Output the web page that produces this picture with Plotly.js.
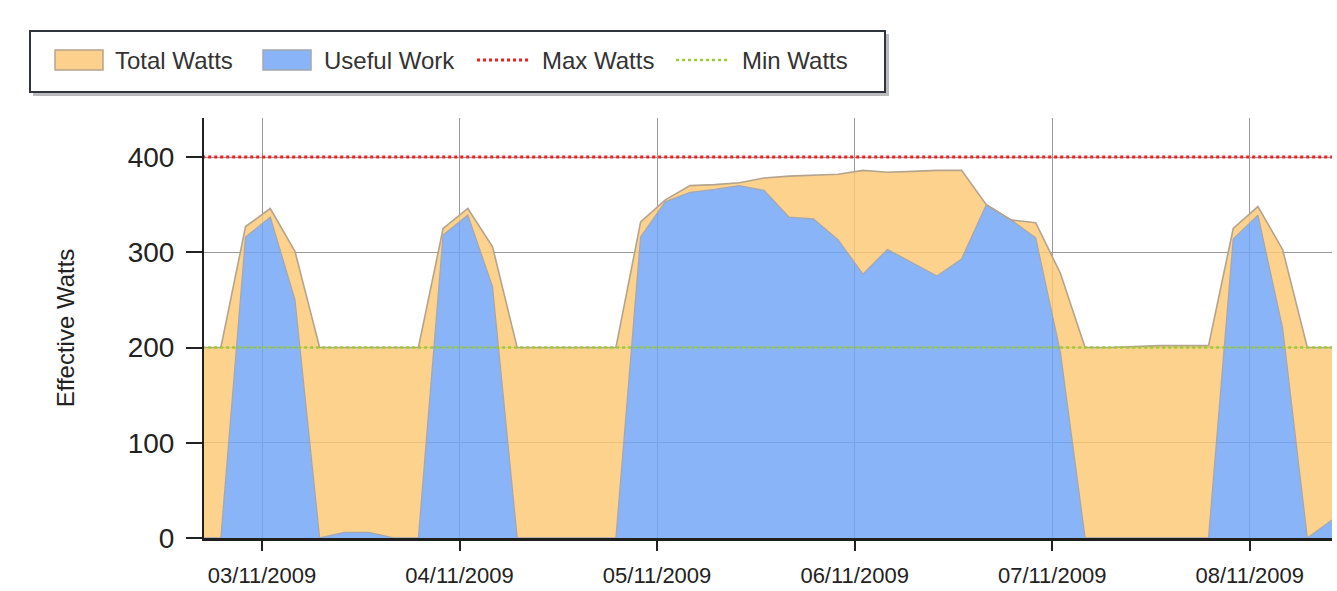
<!DOCTYPE html>
<html>
<head>
<meta charset="utf-8">
<script src="https://cdn.plot.ly/plotly-3.0.1.min.js"></script>
<style>
  html, body { margin: 0; padding: 0; background: #ffffff; }
  #chart { width: 1337px; height: 591px; }
</style>
</head>
<body>
<div id="chart"></div>
<script>
// ---- Data ----
const times = [
  '2009-11-02 16:00', '2009-11-02 19:00', '2009-11-02 22:00',
  '2009-11-03 01:00', '2009-11-03 04:00', '2009-11-03 07:00', '2009-11-03 10:00',
  '2009-11-03 13:00', '2009-11-03 16:00', '2009-11-03 19:00', '2009-11-03 22:00',
  '2009-11-04 01:00', '2009-11-04 04:00', '2009-11-04 07:00', '2009-11-04 10:00',
  '2009-11-04 13:00', '2009-11-04 16:00', '2009-11-04 19:00', '2009-11-04 22:00',
  '2009-11-05 01:00', '2009-11-05 04:00', '2009-11-05 07:00', '2009-11-05 10:00',
  '2009-11-05 13:00', '2009-11-05 16:00', '2009-11-05 19:00', '2009-11-05 22:00',
  '2009-11-06 01:00', '2009-11-06 04:00', '2009-11-06 07:00', '2009-11-06 10:00',
  '2009-11-06 13:00', '2009-11-06 16:00', '2009-11-06 19:00', '2009-11-06 22:00',
  '2009-11-07 01:00', '2009-11-07 04:00', '2009-11-07 07:00', '2009-11-07 10:00',
  '2009-11-07 13:00', '2009-11-07 16:00', '2009-11-07 19:00', '2009-11-07 22:00',
  '2009-11-08 01:00', '2009-11-08 04:00', '2009-11-08 07:00', '2009-11-08 10:00'
];

const totalWatts = [
  200, 200, 327,
  346, 301, 200, 200,
  200, 200, 200, 325,
  346, 306, 200, 200,
  200, 200, 200, 332,
  355, 370, 371, 373,
  378, 380, 381, 382,
  386, 384, 385, 386,
  386, 350, 334, 331,
  278, 200, 200, 201,
  202, 202, 202, 325,
  348, 303, 200, 200
];

const usefulWork = [
  0, 0, 316,
  337, 250, 0, 6,
  6, 0, 0, 318,
  339, 264, 0, 0,
  0, 0, 0, 316,
  353, 363, 366, 370,
  365, 337, 335, 313,
  277, 303, 289, 275,
  293, 350, 334, 315,
  195, 0, 0, 0,
  0, 0, 0, 314,
  339, 220, 0, 19
];

const limitTimes = ['2009-11-02 16:00', '2009-11-08 10:00'];
const maxWatts = [400, 400];
const minWatts = [200, 200];

const seriesNames = ['Total Watts', 'Useful Work', 'Max Watts', 'Min Watts'];
const yTicks = [0, 100, 200, 300, 400];

// ---- Layout geometry (pixels) ----
const L = 204, R = 1332, T = 118, B = 538;
const W = R - L, H = B - T;
const px = x => (x - L) / W;
const py = y => (B - y) / H;

const colors = {
  orange: '#FDD08B',
  orangeFill: 'rgba(253,200,115,0.82)',
  blue: '#8AB4F8',
  blueFill: 'rgba(112,164,246,0.82)',
  edge: '#B4A48F',
  blueEdge: '#A3A7B3',
  red: '#FF1A1A',
  green: '#9ACD32'
};

const traces = [
  {
    x: times, y: usefulWork, name: seriesNames[1], type: 'scatter', mode: 'lines',
    fill: 'tozeroy', fillcolor: colors.blueFill,
    line: { color: colors.blueEdge, width: 1.3 }, showlegend: false, hoverinfo: 'x+y'
  },
  {
    x: times, y: totalWatts, name: seriesNames[0], type: 'scatter', mode: 'lines',
    fill: 'tonexty', fillcolor: colors.orangeFill,
    line: { color: colors.edge, width: 1.6 }, showlegend: false, hoverinfo: 'x+y'
  },
  {
    x: limitTimes, y: minWatts, name: seriesNames[3], type: 'scatter', mode: 'lines',
    line: { color: colors.green, width: 2.5, dash: 'dot' }, showlegend: false
  },
  {
    x: limitTimes, y: maxWatts, name: seriesNames[2], type: 'scatter', mode: 'lines',
    line: { color: colors.red, width: 3, dash: 'dot' }, showlegend: false
  }
];

// Custom legend (box, swatches, labels)
const legendY = 60;
const shapes = [
  { type: 'rect', xref: 'paper', yref: 'paper', x0: px(33), x1: px(889), y0: py(34), y1: py(96),
    fillcolor: 'rgba(60,60,70,0.35)', line: { width: 0 } },
  { type: 'rect', xref: 'paper', yref: 'paper', x0: px(30), x1: px(885), y0: py(31), y1: py(92),
    fillcolor: '#ffffff', line: { color: '#30343d', width: 2 } },
  { type: 'rect', xref: 'paper', yref: 'paper', x0: px(55), x1: px(103), y0: py(50), y1: py(70),
    fillcolor: colors.orange, line: { color: colors.edge, width: 1.5 } },
  { type: 'rect', xref: 'paper', yref: 'paper', x0: px(263), x1: px(311), y0: py(50), y1: py(70),
    fillcolor: colors.blue, line: { color: colors.blueEdge, width: 1.5 } },
  { type: 'line', xref: 'paper', yref: 'paper', x0: px(477), x1: px(528), y0: py(legendY), y1: py(legendY),
    line: { color: colors.red, width: 3, dash: 'dot' } },
  { type: 'line', xref: 'paper', yref: 'paper', x0: px(676), x1: px(728), y0: py(legendY), y1: py(legendY),
    line: { color: colors.green, width: 2.5, dash: 'dot' } }
];

const legendTextX = [113, 322, 540, 740];
const annotations = seriesNames.map((name, i) => ({
  text: name, xref: 'paper', yref: 'paper', x: px(legendTextX[i]), y: py(legendY),
  xanchor: 'left', yanchor: 'middle', showarrow: false,
  font: { family: 'Liberation Sans, Arial, sans-serif', size: 24, color: '#333333' }
}));

const layout = {
  width: 1337, height: 591,
  margin: { l: L, r: 1337 - R, t: T, b: 591 - B, pad: 0 },
  paper_bgcolor: '#ffffff', plot_bgcolor: '#ffffff',
  font: { family: 'Liberation Sans, Arial, sans-serif', color: '#222222' },
  showlegend: false,
  xaxis: {
    type: 'date',
    range: ['2009-11-02 16:57', '2009-11-08 10:00'],
    tick0: '2009-11-03', dtick: 86400000, tickformat: '%d/%m/%Y',
    ticks: 'outside', ticklen: 10, tickwidth: 2, tickcolor: '#222222',
    ticklabelstandoff: 6,
    tickfont: { size: 22, color: '#222222' },
    showgrid: true, gridcolor: '#9a9a9a', gridwidth: 1,
    showline: true, linecolor: '#1f1f1f', linewidth: 3,
    zeroline: false, fixedrange: true, automargin: false
  },
  yaxis: {
    range: [0, 441],
    tickvals: yTicks,
    ticks: 'outside', ticklen: 16, tickwidth: 2, tickcolor: '#222222',
    ticklabelstandoff: 6,
    tickfont: { size: 28, color: '#222222' },
    showgrid: true, gridcolor: '#9a9a9a', gridwidth: 1,
    showline: true, linecolor: '#1f1f1f', linewidth: 2,
    zeroline: false, fixedrange: true, automargin: false,
    title: { text: 'Effective Watts', font: { size: 24, color: '#222222' }, standoff: 46 }
  },
  shapes: shapes,
  annotations: annotations
};

Plotly.newPlot('chart', traces, layout, { displayModeBar: false, staticPlot: true });
</script>
</body>
</html>
